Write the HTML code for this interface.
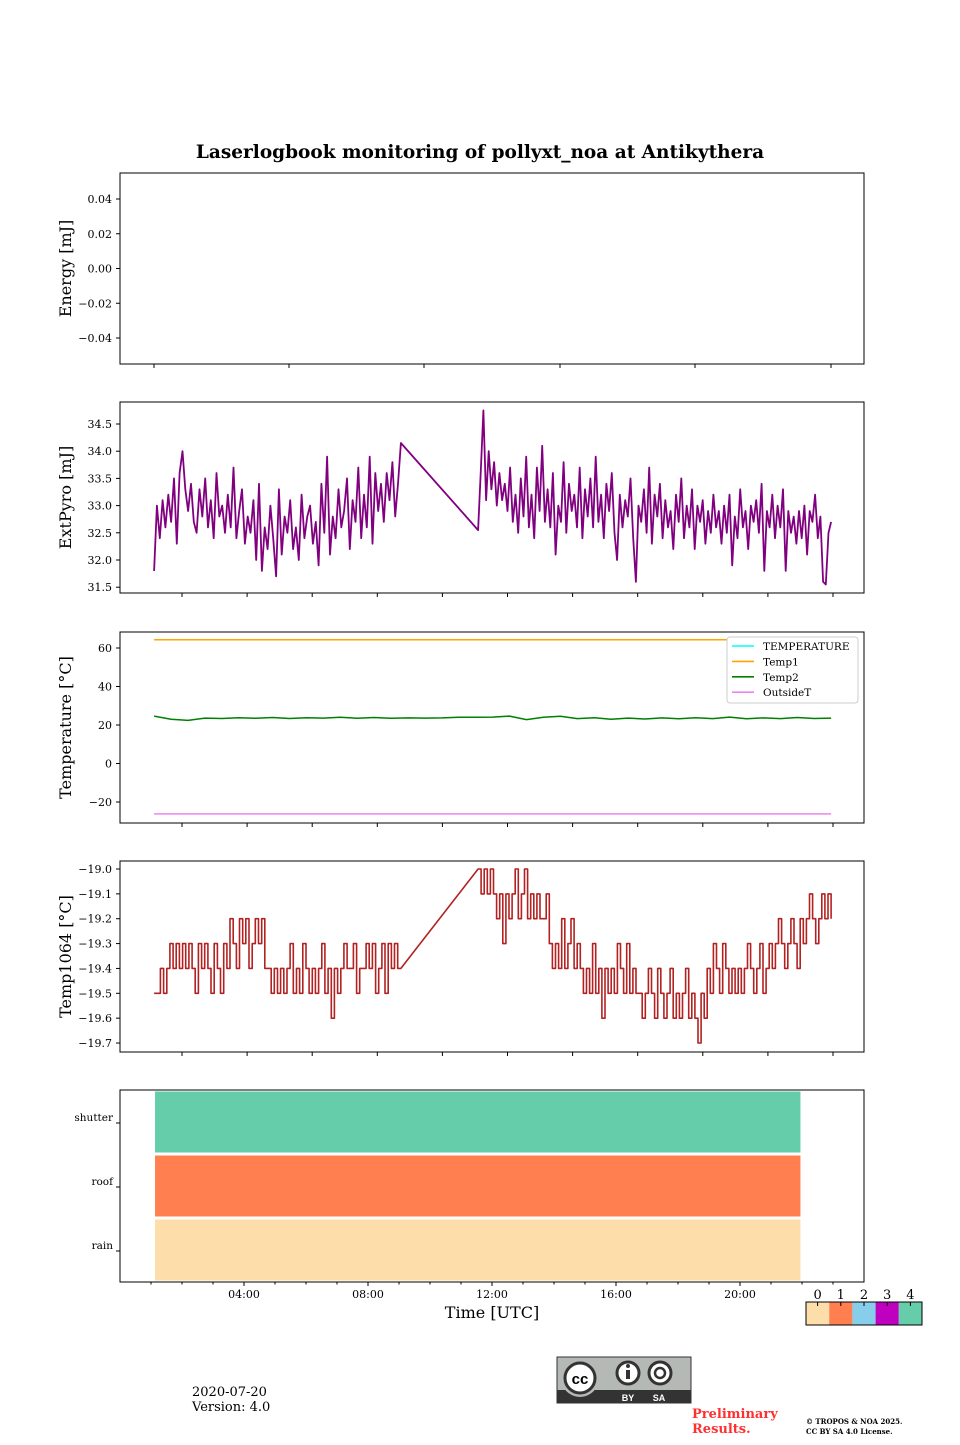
<!DOCTYPE html>
<html><head><meta charset="utf-8"><style>
body{margin:0;background:#fff;width:960px;height:1440px;overflow:hidden}
svg text{font-family:"DejaVu Serif","Liberation Serif",serif;fill:#000}
</style></head><body>
<svg id="fig" width="960" height="1440" viewBox="0 0 960 1440" xmlns="http://www.w3.org/2000/svg">
<text x="480" y="158" text-anchor="middle" font-size="18.5" font-weight="bold">Laserlogbook monitoring of pollyxt_noa at Antikythera</text>
<g id="p1"></g>
<g id="p2"></g>
<g id="p3"></g>
<g id="p4"></g>
<g id="p5"></g>
<g id="cb"></g>
<text x="192" y="1396" font-size="13">2020-07-20</text>
<text x="192" y="1411" font-size="13">Version: 4.0</text>
<g>
<rect x="557" y="1357" width="134" height="46" fill="#b5b9b5" stroke="#333" stroke-width="1"/>
<rect x="557" y="1390" width="134" height="13" fill="#333"/>
<circle cx="580" cy="1378" r="19" fill="#b5b9b5"/>
<circle cx="580" cy="1378" r="15" fill="#fff" stroke="#333" stroke-width="3"/>
<text x="580" y="1384" text-anchor="middle" font-size="15" font-weight="bold" style="font-family:'Liberation Sans',sans-serif">cc</text>
<circle cx="628" cy="1373" r="11" fill="#fff" stroke="#333" stroke-width="3"/>
<rect x="626" y="1370" width="4" height="9" fill="#333"/><circle cx="628" cy="1366" r="2" fill="#333"/>
<circle cx="660" cy="1373" r="11" fill="#fff" stroke="#333" stroke-width="3"/>
<circle cx="660" cy="1373" r="5" fill="none" stroke="#333" stroke-width="2.5"/>
<text x="628" y="1401" text-anchor="middle" font-size="9" font-weight="bold" style="fill:#fff;font-family:'Liberation Sans',sans-serif">BY</text>
<text x="659" y="1401" text-anchor="middle" font-size="9" font-weight="bold" style="fill:#fff;font-family:'Liberation Sans',sans-serif">SA</text>
</g>
<text x="692" y="1418" font-size="13" font-weight="bold" style="fill:#ff3030">Preliminary</text>
<text x="692" y="1433" font-size="13" font-weight="bold" style="fill:#ff3030">Results.</text>
<text x="806" y="1424" font-size="7" font-weight="bold">© TROPOS &amp; NOA 2025.</text>
<text x="806" y="1434" font-size="7" font-weight="bold">CC BY SA 4.0 License.</text>
</svg>
<script>
// ---- data ----
const pyroSeg1Start=1.1, pyroSeg1End=9.06, pyroSeg2Start=11.55, pyroSeg2End=22.94;
const pyroSeg1=[31.8,33.0,32.4,33.1,32.6,33.2,32.7,33.5,32.3,33.6,34.0,33.3,32.9,33.4,32.7,32.5,33.3,32.8,33.5,32.6,33.1,32.4,33.6,32.8,33.0,32.5,33.2,32.6,33.7,32.4,32.9,33.3,32.3,32.8,32.5,33.1,32.0,33.4,31.8,32.6,32.2,33.0,32.4,31.7,33.3,32.1,32.8,32.5,33.1,32.2,32.6,32.0,33.2,32.4,32.8,33.0,32.3,32.7,31.9,33.4,32.5,33.9,32.1,32.8,32.4,33.3,32.6,32.9,33.5,32.2,33.1,32.7,33.7,32.4,33.2,32.6,33.9,32.3,33.6,32.9,33.4,32.7,33.6,33.1,33.8,32.8,33.4,34.15];
const pyroSeg2=[32.55,33.6,34.75,33.1,34.0,33.3,33.8,33.0,33.6,33.1,33.4,32.9,33.7,32.7,33.2,32.5,33.5,32.8,33.9,32.6,33.2,32.4,33.7,32.9,34.1,32.7,33.3,32.6,33.6,32.1,33.0,32.7,33.8,32.5,33.4,32.9,33.2,32.6,33.7,32.4,33.3,32.8,33.5,32.6,33.9,32.7,33.2,32.4,33.4,32.9,33.6,32.5,32.0,33.2,32.6,33.1,32.8,33.5,32.4,31.6,33.0,32.7,33.3,32.5,33.7,32.3,33.2,32.8,33.4,32.4,33.1,32.6,32.9,32.2,33.2,32.7,33.5,32.4,33.0,32.6,33.3,32.2,33.0,32.7,33.1,32.3,32.9,32.5,33.2,32.6,32.9,32.3,33.0,32.5,33.2,31.9,32.8,32.4,33.3,32.6,32.9,32.2,33.0,32.7,33.1,32.5,33.4,31.8,32.9,32.6,33.2,32.4,33.0,32.6,33.3,31.8,32.9,32.5,32.8,32.3,32.9,32.4,33.0,32.1,32.9,32.7,33.2,32.4,32.8,31.6,31.55,32.5,32.7];
const tempTimeStart=1.1, tempTimeEnd=22.94;
const temp1=[64.3,64.3];
const outsideT=[-26.2,-26.2];
const temp2=[24.6,23.0,22.4,23.6,23.4,23.8,23.5,23.9,23.4,23.8,23.6,24.0,23.5,23.9,23.5,23.7,23.6,23.7,24.0,24.0,24.1,24.6,22.8,24.0,24.5,23.3,23.8,23.0,23.6,23.1,23.7,23.2,23.8,23.3,24.1,23.2,23.7,23.3,23.9,23.4,23.6];
const t1064Seg1=[-19.5,-19.5,-19.4,-19.5,-19.4,-19.3,-19.4,-19.3,-19.4,-19.3,-19.4,-19.3,-19.4,-19.5,-19.3,-19.4,-19.3,-19.4,-19.5,-19.3,-19.4,-19.5,-19.3,-19.4,-19.2,-19.3,-19.4,-19.2,-19.3,-19.2,-19.4,-19.3,-19.2,-19.3,-19.2,-19.4,-19.4,-19.5,-19.4,-19.5,-19.4,-19.5,-19.4,-19.3,-19.5,-19.4,-19.5,-19.3,-19.4,-19.5,-19.4,-19.5,-19.4,-19.3,-19.5,-19.4,-19.6,-19.4,-19.5,-19.4,-19.3,-19.4,-19.4,-19.3,-19.5,-19.4,-19.4,-19.3,-19.4,-19.3,-19.5,-19.4,-19.3,-19.5,-19.3,-19.4,-19.3,-19.4,-19.4];
const t1064Seg2=[-19.0,-19.1,-19.0,-19.1,-19.0,-19.1,-19.2,-19.1,-19.3,-19.1,-19.2,-19.1,-19.0,-19.2,-19.1,-19.0,-19.2,-19.1,-19.2,-19.1,-19.2,-19.2,-19.1,-19.3,-19.4,-19.3,-19.4,-19.2,-19.4,-19.3,-19.2,-19.4,-19.3,-19.4,-19.5,-19.4,-19.5,-19.3,-19.5,-19.4,-19.6,-19.4,-19.5,-19.4,-19.5,-19.3,-19.4,-19.5,-19.3,-19.5,-19.4,-19.5,-19.5,-19.6,-19.5,-19.4,-19.5,-19.6,-19.4,-19.5,-19.6,-19.5,-19.4,-19.6,-19.5,-19.6,-19.5,-19.4,-19.6,-19.5,-19.6,-19.7,-19.5,-19.6,-19.4,-19.5,-19.3,-19.4,-19.5,-19.3,-19.4,-19.5,-19.4,-19.5,-19.4,-19.5,-19.4,-19.3,-19.4,-19.5,-19.4,-19.3,-19.5,-19.4,-19.3,-19.4,-19.3,-19.2,-19.3,-19.4,-19.3,-19.2,-19.3,-19.4,-19.2,-19.3,-19.2,-19.1,-19.2,-19.3,-19.2,-19.1,-19.2,-19.1,-19.2];
const t1064Seg1Start=1.1,t1064Seg1End=9.06,t1064Seg2Start=11.55,t1064Seg2End=22.94;
const statusRows=["rain","roof","shutter"];
const statusValues=[0,1,4];
const statusStart=1.13, statusEnd=21.95;
const timeTickLabels=["04:00","08:00","12:00","16:00","20:00"];
const timeTickHours=[4,8,12,16,20];
const energyTicks=[0.04,0.02,0.00,-0.02,-0.04];
const pyroTicks=[34.5,34.0,33.5,33.0,32.5,32.0,31.5];
const tempTicks=[60,40,20,0,-20];
const t1064Ticks=[-19.0,-19.1,-19.2,-19.3,-19.4,-19.5,-19.6,-19.7];
const cbColors=["#fddeab","#ff7f50","#87ceeb","#bf00bf","#66cdaa"];
const cbLabels=["0","1","2","3","4"];
// ---- helpers ----
const NS="http://www.w3.org/2000/svg";
function mk(parent,tag,attrs,text){const e=document.createElementNS(NS,tag);for(const k in attrs)e.setAttribute(k,attrs[k]);if(text!==undefined)e.textContent=text;parent.appendChild(e);return e;}
const X0=120,X1=864;
const xH=h=>X0+h*31;
function frame(g,top,bot,ylabel,ticks,yf,fmt,name){
  const r=mk(g,'rect',{x:X0,y:top,width:X1-X0,height:bot-top,fill:'none',stroke:'#000','stroke-width':1});
  
  
  ticks.forEach(v=>{const y=yf(v);
    mk(g,'line',{x1:X0-4,x2:X0,y1:y,y2:y,stroke:'#000'});
    const t=mk(g,'text',{x:X0-8,y:y+4,'text-anchor':'end','font-size':11},fmt(v));
    
    });
  const cy=(top+bot)/2;
  const yl=mk(g,'text',{x:0,y:0,transform:`translate(71,${cy}) rotate(-90)`,'text-anchor':'middle','font-size':16},ylabel);
  
  
}
function xticksUpper(g,bot,pos){pos.forEach(x=>mk(g,'line',{x1:x,x2:x,y1:bot,y2:bot+4,stroke:'#000'}));}
const upperTicks=[];for(let i=0;i<11;i++)upperTicks.push(182+i*65.1);
function segPts(vals,t0,t1,yf){return vals.map((v,i)=>[xH(t0+(t1-t0)*i/(vals.length-1)),yf(v)]);}
function poly(g,pts,color,w,name){const p=mk(g,'polyline',{points:pts.map(p=>p[0].toFixed(1)+','+p[1].toFixed(1)).join(' '),fill:'none',stroke:color,'stroke-width':w,'stroke-linejoin':'round'});
  
  return p;}
// Panel 1
const g1=document.getElementById('p1');
const y1=v=>268.5-v*(139/0.08);
frame(g1,173,364,'Energy [mJ]',energyTicks,y1,v=>v===0?'0.00':(v<0?'\u22120.0'+Math.abs(v*100):'0.0'+v*100),'energy');
xticksUpper(g1,364,[154,289,424,560,695,831]);
// Panel 2
const g2=document.getElementById('p2');
const y2=v=>424+(34.5-v)*54.4;
frame(g2,402,593,'ExtPyro [mJ]',pyroTicks,y2,v=>v.toFixed(1),'extpyro');
xticksUpper(g2,593,upperTicks);
poly(g2,segPts(pyroSeg1,pyroSeg1Start,pyroSeg1End,y2).concat(segPts(pyroSeg2,pyroSeg2Start,pyroSeg2End,y2)),'#800080',1.8,'extpyro-line');
// Panel 3
const g3=document.getElementById('p3');
const y3=v=>725+(20-v)*1.925;
frame(g3,632,823,'Temperature [°C]',tempTicks,y3,v=>v<0?'\u2212'+Math.abs(v):String(v),'temperature');
xticksUpper(g3,823,upperTicks);
poly(g3,segPts(temp1,tempTimeStart,tempTimeEnd,y3),'#ffa500',1.5,'temp1-line');
poly(g3,segPts(outsideT,tempTimeStart,tempTimeEnd,y3),'#ee82ee',1.5,'outsidet-line');
poly(g3,segPts(temp2,tempTimeStart,tempTimeEnd,y3),'#008000',1.5,'temp2-line');
const lg=mk(g3,'g',{});


mk(lg,'rect',{x:727,y:637,width:131,height:66,rx:3,fill:'#fff',stroke:'#ccc'});
[["TEMPERATURE","#00ffff"],["Temp1","#ffa500"],["Temp2","#008000"],["OutsideT","#ee82ee"]].forEach((e,i)=>{const y=646+i*15.4;
  mk(lg,'line',{x1:732,x2:754,y1:y,y2:y,stroke:e[1],'stroke-width':1.6});
  const t=mk(lg,'text',{x:763,y:y+4,'font-size':10.5},e[0]);
  
  });
// Panel 4
const g4=document.getElementById('p4');
const y4=v=>869+(-19.0-v)*248.6;
frame(g4,861,1052,'Temp1064 [°C]',t1064Ticks,y4,v=>'\u2212'+Math.abs(v).toFixed(1),'temp1064');
xticksUpper(g4,1052,upperTicks);
function stepPts(vals,t0,t1){const pts=[];vals.forEach((v,i)=>{const x=xH(t0+(t1-t0)*i/(vals.length-1));if(i>0)pts.push([x,pts[pts.length-1][1]]);pts.push([x,y4(v)]);});return pts;}
poly(g4,stepPts(t1064Seg1,t1064Seg1Start,t1064Seg1End).concat(stepPts(t1064Seg2,t1064Seg2Start,t1064Seg2End)),'#b22222',1.6,'temp1064-line');
// Panel 5
const g5=document.getElementById('p5');
const rowH=(1282-1090)/3;
statusRows.forEach((name,i)=>{const top=1282-(i+1)*rowH;
  const r=mk(g5,'rect',{x:xH(statusStart),y:top+1.5,width:xH(statusEnd)-xH(statusStart),height:rowH-3,fill:cbColors[statusValues[i]]});
  
  
  const cy=top+rowH/2;
  mk(g5,'line',{x1:X0-4,x2:X0,y1:cy+1,y2:cy+1,stroke:'#000'});
  const t=mk(g5,'text',{x:X0-7,y:cy-1,'text-anchor':'end','font-size':10.5},name);
  
  });
mk(g5,'rect',{x:X0,y:1090,width:X1-X0,height:192,fill:'none',stroke:'#000'});
for(let h=1;h<24;h++)mk(g5,'line',{x1:xH(h),x2:xH(h),y1:1282,y2:1284.5,stroke:'#000'});
timeTickHours.forEach((h,i)=>{mk(g5,'line',{x1:xH(h),x2:xH(h),y1:1282,y2:1286,stroke:'#000'});
  const t=mk(g5,'text',{x:xH(h),y:1298,'text-anchor':'middle','font-size':11},timeTickLabels[i]);
  
  });
const xt=mk(g5,'text',{x:492,y:1318,'text-anchor':'middle','font-size':16},'Time [UTC]');


// Colorbar
const cb=document.getElementById('cb');
const cw=116/5;
cbColors.forEach((c,i)=>{const r=mk(cb,'rect',{x:806+i*cw,y:1302,width:cw,height:23,fill:c});
  
  
  const cx=806+cw*(i+0.5);
  mk(cb,'line',{x1:cx,x2:cx,y1:1302,y2:1306,stroke:'#000'});
  const t=mk(cb,'text',{x:cx,y:1299,'text-anchor':'middle','font-size':13},cbLabels[i]);
  
  });
mk(cb,'rect',{x:806,y:1302,width:116,height:23,fill:'none',stroke:'#000'});
</script>
</body></html>
